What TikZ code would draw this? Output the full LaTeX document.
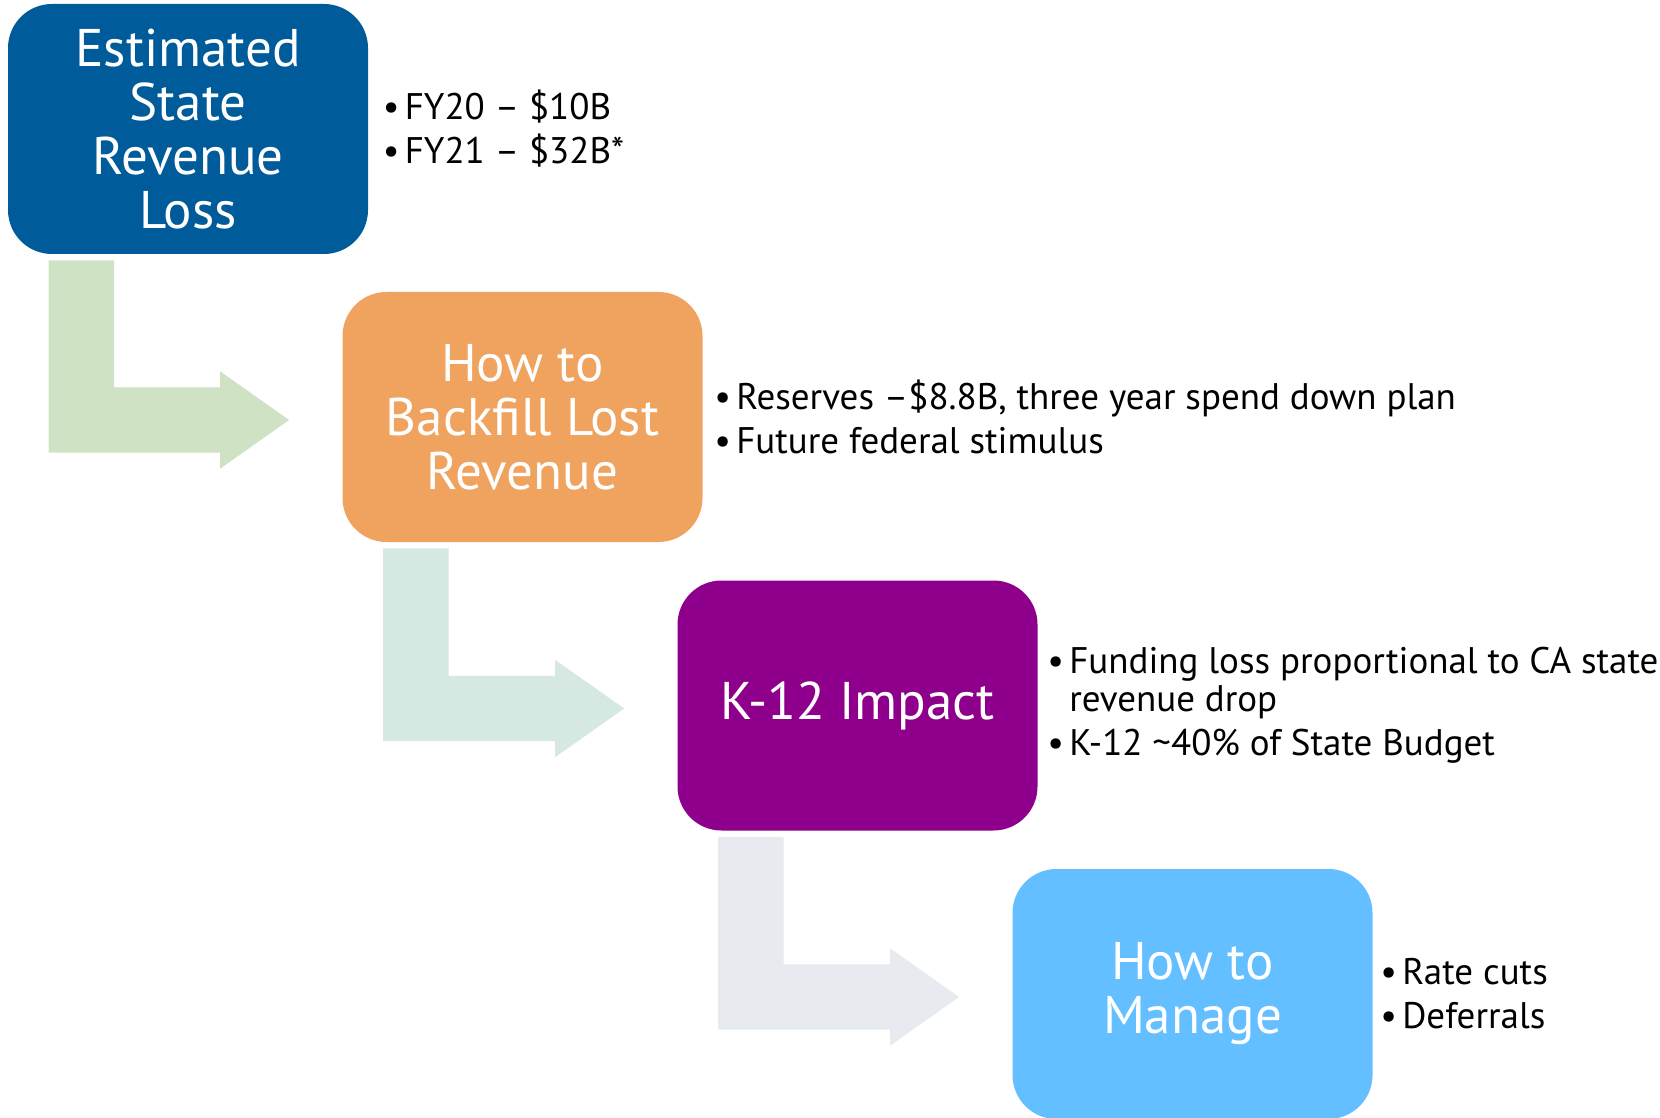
\documentclass[tikz,border=0pt]{standalone}
\usepackage{fontspec}
\setmainfont{PT Sans}
\usetikzlibrary{positioning,calc}
\definecolor{rvblue}{HTML}{005B9A}
\definecolor{rvorange}{HTML}{F0A35E}
\definecolor{rvpurple}{HTML}{8E008C}
\definecolor{rvsky}{HTML}{63BFFF}
\definecolor{rvgreen}{HTML}{CFE2C3}
\definecolor{rvteal}{HTML}{D5E8E2}
\definecolor{rvgrey}{HTML}{E7EAEF}
\tikzset{
  rvbox/.style={rounded corners=22pt, minimum width=180pt, minimum height=125pt, inner sep=0pt, align=center, text=white, font=\fontsize{26.5}{27}\selectfont},
  rvnote/.style={inner sep=0pt, align=left, font=\fontsize{18.5}{19}\selectfont},
}
\newcommand{\rvbul}{\makebox[11pt][l]{\textbullet}}

\begin{document}
\begin{tikzpicture}[x=0.5pt, y=-0.5pt]
\useasboundingbox (0,0) rectangle (1660,1118);
\node[rvbox, fill=rvblue] (est) at (188,129) {Estimated\\State\\Revenue\\Loss};
\node[rvbox, fill=rvorange] (back) at (522.5,417) {How to\\Backfill Lost\\Revenue};
\node[rvbox, fill=rvpurple] (impact) at (857.5,705.5) {K-12 Impact};
\node[rvbox, fill=rvsky] (manage) at (1192.5,994) {How to\\Manage};
\node[rvnote, right=7pt of est] (estnote) {\rvbul FY20 – \$10B\\[3pt]\rvbul FY21 – \$32B*};
\node[rvnote, right=5.5pt of back] (backnote) {\rvbul Reserves –\$8.8B, three year spend down plan\\[3pt]\rvbul Future federal stimulus};
\node[rvnote, right=4.5pt of impact] (impactnote) {\rvbul Funding loss proportional to CA state\\\hspace*{11pt}revenue drop\\[3pt]\rvbul K-12 \textasciitilde40\% of State Budget};
\node[rvnote, right=3.5pt of manage] (managenote) {\rvbul Rate cuts\\[3pt]\rvbul Deferrals};
% bent arrows between the boxes
\foreach \a/\b/\c in {est/back/rvgreen, back/impact/rvteal, impact/manage/rvgrey} {
  \coordinate (top) at ($(\a.south west)+(41,6)$);
  \coordinate (tip) at ($(\b.west)+(-53,3)$);
  \fill[\c] (top) -- ++(65.6,0) |- ($(tip)+(-69,-32.7)$) -- ++(0,-16) -- (tip) -- ++(-69,48.7) -- ++(0,-16) -| (top);
}
\end{tikzpicture}
\end{document}
